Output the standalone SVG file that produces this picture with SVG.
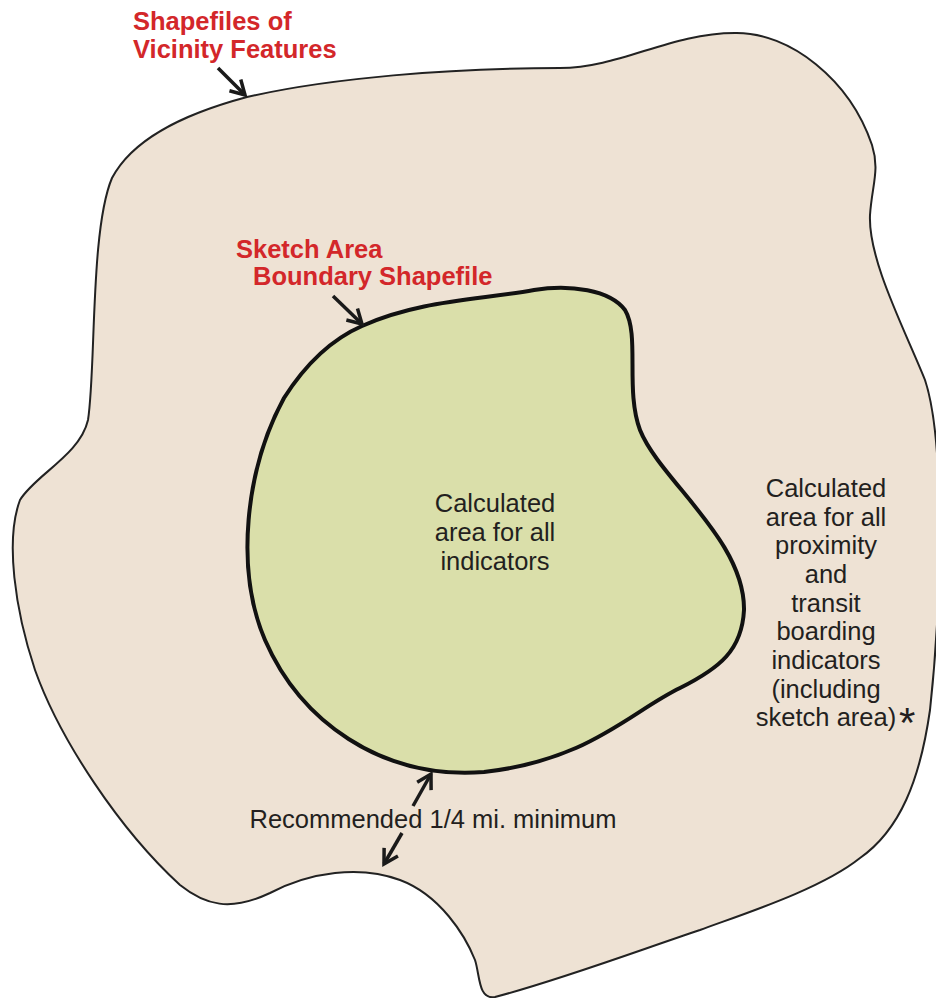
<svg xmlns="http://www.w3.org/2000/svg" width="936" height="998" viewBox="0 0 936 998">
<defs>
<style>
.red{font-family:"Liberation Sans",Arial,sans-serif;font-weight:bold;font-size:25.5px;fill:#d3272a}
.lbl{font-family:"Liberation Sans",Arial,sans-serif;font-size:25.5px;fill:#231f20;text-anchor:middle}
.arr{fill:none;stroke:#1a1a1a;stroke-width:3.5;marker-end:url(#ah)}
</style>
<marker id="ah" viewBox="0 0 20 20" refX="17" refY="10" markerWidth="20" markerHeight="20" markerUnits="userSpaceOnUse" orient="auto">
<path d="M3,2 L17,10 L3,18" fill="none" stroke="#1a1a1a" stroke-width="3.5" stroke-linejoin="miter"/>
</marker>
</defs>
<rect width="936" height="998" fill="#ffffff"/>
<g id="vicinity">
<path d="M247,97 C330,78 450,68 560,68 C620,68 670,33 735,33 C790,32 850,80 872,145 C880,170 872,185 870,215 C868,260 905,330 925,380 C945,440 942,600 930,710 C920,780 900,830 860,858 C820,890 740,915 700,930 C640,950 560,980 495,997 C478,1000 480,975 475,960 C465,935 440,895 400,880 C360,865 310,872 270,893 C230,912 205,905 180,885 C120,830 60,740 35,670 C15,610 5,540 20,500 C35,475 80,455 88,420 C96,370 90,230 112,178 C132,140 180,115 247,97 Z" fill="#eee2d4" stroke="#222" stroke-width="2"/>
<text class="red" x="133" y="30">Shapefiles of</text>
<text class="red" x="133" y="58">Vicinity Features</text>
<text class="lbl"><tspan x="826" y="497">Calculated</tspan><tspan x="826" y="526">area for all</tspan><tspan x="826" y="554">proximity</tspan><tspan x="826" y="583">and</tspan><tspan x="826" y="612">transit</tspan><tspan x="826" y="640">boarding</tspan><tspan x="826" y="669">indicators</tspan><tspan x="826" y="698">(including</tspan><tspan x="826" y="726">sketch area)</tspan></text>
<text x="899" y="737" style="font-family:'Liberation Sans',Arial,sans-serif;font-size:42px;fill:#231f20">*</text>
</g>
<g id="sketch">
<path d="M362,326 C420,300 480,300 534,290 C570,284 610,290 625,310 C640,335 625,390 640,430 C660,480 745,540 744,610 C742,650 720,668 680,688 C630,712 590,760 484,772 C380,780 300,720 265,640 C235,570 245,470 284,398 C305,365 330,340 362,326 Z" fill="#dadfaa" stroke="#111" stroke-width="4"/>
<text class="red" x="236" y="258">Sketch Area</text>
<text class="red" x="253" y="285">Boundary Shapefile</text>
<text class="lbl"><tspan x="495" y="512">Calculated</tspan><tspan x="495" y="541">area for all</tspan><tspan x="495" y="570">indicators</tspan></text>
</g>
<text class="lbl" x="433" y="828">Recommended 1/4 mi. minimum</text>
<g id="connectors">
<path class="arr" d="M218,68 L245,95"/>
<path class="arr" d="M333,296 L362,324"/>
<path class="arr" d="M413,806 L431,774"/>
<path class="arr" d="M402,833 L384,864"/>
</g>
</svg>
